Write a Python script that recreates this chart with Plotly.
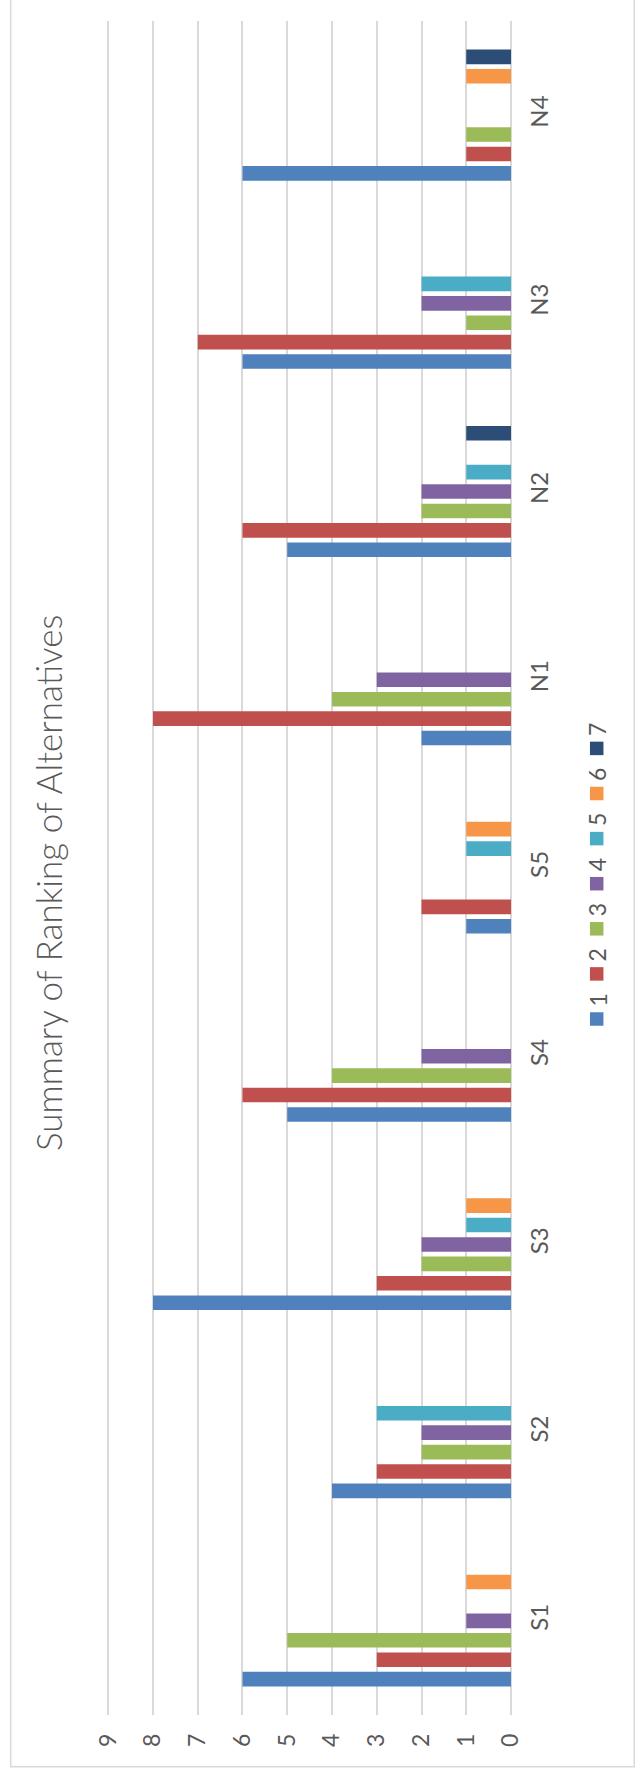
import plotly.graph_objects as go

# Alternatives (bottom to top) and how many times each received each rank
alternatives = ["S1", "S2", "S3", "S4", "S5", "N1", "N2", "N3", "N4"]

rank_1 = [6, 4, 8, 5, 1, 2, 5, 6, 6]
rank_2 = [3, 3, 3, 6, 2, 8, 6, 7, 1]
rank_3 = [5, 2, 2, 4, 0, 4, 2, 1, 1]
rank_4 = [1, 2, 2, 2, 0, 3, 2, 2, 0]
rank_5 = [0, 3, 1, 0, 1, 0, 1, 2, 0]
rank_6 = [1, 0, 1, 0, 1, 0, 0, 0, 1]
rank_7 = [0, 0, 0, 0, 0, 0, 1, 0, 1]

rank_names = ["1", "2", "3", "4", "5", "6", "7"]
value_ticks = [0, 1, 2, 3, 4, 5, 6, 7, 8, 9]
title_text = "Summary of Ranking of Alternatives"

series = [rank_1, rank_2, rank_3, rank_4, rank_5, rank_6, rank_7]
colors = ["#4F81BD", "#C0504D", "#9BBB59", "#8064A2", "#4BACC6", "#F79646", "#2C4D75"]

W, H = 639, 1775
L, R, T, B = 106, 128, 21, 60
PW, PH = W - L - R, H - T - B

FONT = "Lato"
GREY = "#595959"
GRID = "#D9D9D9"


def px_x(x):
    return (x - L) / PW


def px_y(y):
    return 1 - (y - T) / PH


fig = go.Figure()
for name, vals, col in zip(rank_names, series, colors):
    fig.add_trace(go.Bar(
        y=alternatives,
        x=[v if v else None for v in vals],
        name=name,
        orientation="h",
        marker=dict(color=col, line=dict(width=0)),
        showlegend=False,
    ))

shapes = []
annotations = []

# outer chart frame
shapes.append(dict(type="rect", xref="paper", yref="paper",
                   x0=px_x(10.7), x1=px_x(634.3), y0=px_y(1766.7), y1=px_y(-5),
                   line=dict(color=GRID, width=1.5), fillcolor="rgba(0,0,0,0)", layer="below"))

# title, running up the left side
annotations.append(dict(text=title_text, xref="paper", yref="paper",
                        x=px_x(48), y=px_y(883), textangle=-90, showarrow=False,
                        xanchor="center", yanchor="middle",
                        font=dict(family=FONT, size=35, color=GREY, weight=300)))

# legend: swatches with rotated labels, stacked upward
sw = 13.5
for i, (name, col) in enumerate(zip(rank_names, colors)):
    cy = 1019 - i * 45.1
    cx = 596.7
    shapes.append(dict(type="rect", xref="paper", yref="paper",
                       x0=px_x(cx - sw / 2), x1=px_x(cx + sw / 2),
                       y0=px_y(cy + sw / 2), y1=px_y(cy - sw / 2),
                       line=dict(width=0), fillcolor=col))
    annotations.append(dict(text=name, xref="paper", yref="paper",
                            x=px_x(597), y=px_y(cy - 18.5), textangle=-90,
                            showarrow=False, xanchor="center", yanchor="middle",
                            font=dict(family=FONT, size=23, color=GREY)))

fig.update_layout(
    width=W, height=H,
    margin=dict(l=L, r=R, t=T, b=B, autoexpand=False),
    paper_bgcolor="white", plot_bgcolor="white",
    barmode="group", bargap=0.278, bargroupgap=0.248,
    shapes=shapes, annotations=annotations,
    xaxis=dict(range=[9.05, 0], tickvals=value_ticks, ticktext=[str(v) for v in value_ticks],
               showgrid=True, gridcolor=GRID, gridwidth=1.5,
               zeroline=True, zerolinecolor=GRID, zerolinewidth=1.5,
               showline=False, ticks="", tickangle=-90, ticklabelstandoff=13,
               tickfont=dict(family=FONT, size=23, color=GREY), fixedrange=True),
    yaxis=dict(type="category", categoryorder="array", categoryarray=alternatives,
               range=[-0.5, 8.5],
               side="right", showgrid=False, zeroline=False, showline=False, ticks="",
               tickangle=-90, ticklabelstandoff=12,
               tickfont=dict(family=FONT, size=24, color=GREY), fixedrange=True),
)

fig.write_html("out.html")
